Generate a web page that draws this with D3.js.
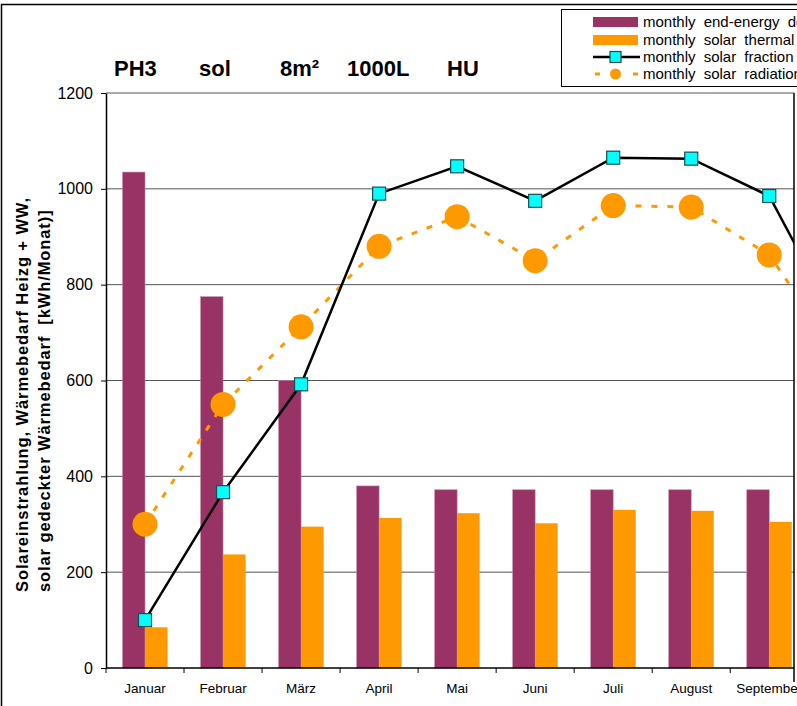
<!DOCTYPE html>
<html>
<head>
<meta charset="utf-8">
<script src="https://cdn.jsdelivr.net/npm/d3@7"></script>
<style>
  body { margin: 0; background: #fff; }
  svg { display: block; font-family: "Liberation Sans", Arial, sans-serif; }
</style>
</head>
<body>
<div id="chart"></div>
<script>
// monthly values (chart is cut off after September)
var months = ["Januar", "Februar", "März", "April", "Mai", "Juni", "Juli", "August", "September", "Oktober"];
var endEnergy = [1035, 775, 600, 380, 372, 372, 372, 372, 372, null];
var solarThermal = [85, 237, 295, 313, 323, 302, 330, 328, 305, null];
var solarFraction = [100, 367, 592, 990, 1047, 975, 1065, 1063, 985, 680];
var solarRadiation = [300, 550, 712, 880, 942, 850, 965, 962, 862, 625];
var yTicks = [0, 200, 400, 600, 800, 1000, 1200];
var titleParts = ["PH3", "sol", "8m²", "1000L", "HU"];
var legendLabels = ["monthly end-energy demand", "monthly solar thermal", "monthly solar fraction", "monthly solar radiation"];

var width = 797, height = 706;
var margin = { top: 93, left: 106, bottom: 38 };
var plotRight = 794;
var step = 78.03;

var svg = d3.select("#chart").append("svg")
    .attr("width", width)
    .attr("height", height);

// outer frame of the chart area
svg.append("path")
    .attr("d", "M1.5," + height + "V4.5H" + width)
    .attr("fill", "none").attr("stroke", "#000").attr("stroke-width", 1.5);

var x = d3.scaleBand()
    .domain(months)
    .range([margin.left, margin.left + months.length * step]);

var xSub = d3.scaleBand()
    .domain(["end", "solar"])
    .range([0, x.bandwidth()])
    .paddingOuter(0.733);

var y = d3.scaleLinear()
    .domain([0, 1200])
    .range([height - margin.bottom, margin.top]);

svg.append("clipPath").attr("id", "plotclip")
  .append("rect")
    .attr("x", margin.left).attr("y", 0)
    .attr("width", plotRight - margin.left).attr("height", height);

var plot = svg.append("g").attr("clip-path", "url(#plotclip)");

// gridlines
plot.selectAll(".grid")
    .data(yTicks.filter(function(d) { return d > 0; }))
    .enter().append("line")
    .attr("x1", margin.left).attr("x2", plotRight)
    .attr("y1", function(d) { return y(d); })
    .attr("y2", function(d) { return y(d); })
    .attr("stroke", "#555").attr("stroke-width", 1);

// bars
var barGroups = plot.selectAll(".month")
    .data(months)
    .enter().append("g")
    .attr("transform", function(d) { return "translate(" + x(d) + ",0)"; });

barGroups.filter(function(d, i) { return endEnergy[i] != null; })
    .append("rect")
    .attr("x", xSub("end"))
    .attr("width", xSub.bandwidth())
    .attr("y", function(d) { return y(endEnergy[months.indexOf(d)]); })
    .attr("height", function(d) { return y(0) - y(endEnergy[months.indexOf(d)]); })
    .attr("fill", "#993366")
    .attr("stroke", "#c58fac").attr("stroke-width", 0.6);

barGroups.filter(function(d, i) { return solarThermal[i] != null; })
    .append("rect")
    .attr("x", xSub("solar"))
    .attr("width", xSub.bandwidth())
    .attr("y", function(d) { return y(solarThermal[months.indexOf(d)]); })
    .attr("height", function(d) { return y(0) - y(solarThermal[months.indexOf(d)]); })
    .attr("fill", "#ff9900");

var cx = function(d, i) { return x(months[i]) + x.bandwidth() / 2; };

// solar radiation: dashed orange line with circles
plot.append("path")
    .datum(solarRadiation)
    .attr("fill", "none")
    .attr("stroke", "#ff9900")
    .attr("stroke-width", 3)
    .attr("stroke-dasharray", "6,10")
    .attr("d", d3.line().x(cx).y(function(d) { return y(d); }));

plot.selectAll(".rad")
    .data(solarRadiation)
    .enter().append("circle")
    .attr("cx", cx)
    .attr("cy", function(d) { return y(d); })
    .attr("r", 12.5)
    .attr("fill", "#ff9900");

// solar fraction: black line with cyan squares
plot.append("path")
    .datum(solarFraction)
    .attr("fill", "none")
    .attr("stroke", "#000")
    .attr("stroke-width", 2.5)
    .attr("d", d3.line().x(cx).y(function(d) { return y(d); }));

plot.selectAll(".frac")
    .data(solarFraction)
    .enter().append("rect")
    .attr("x", function(d, i) { return cx(d, i) - 6.5; })
    .attr("y", function(d) { return y(d) - 6.5; })
    .attr("width", 13).attr("height", 13)
    .attr("fill", "#00ffff")
    .attr("stroke", "#1a4d4d").attr("stroke-width", 1.2);

// right edge of the cut-off plot
svg.append("line")
    .attr("x1", plotRight).attr("x2", plotRight)
    .attr("y1", y(1200)).attr("y2", 682)
    .attr("stroke", "#000").attr("stroke-width", 1.5);

// y axis
var yAxis = svg.append("g")
    .attr("transform", "translate(" + margin.left + ",0)")
    .call(d3.axisLeft(y).tickValues(yTicks).tickFormat(d3.format("d"))
        .tickSize(5).tickPadding(8).tickSizeOuter(0));
yAxis.select(".domain").attr("stroke", "#000").attr("stroke-width", 1.5);
yAxis.selectAll(".tick line").attr("stroke", "#000");
yAxis.selectAll("text").attr("font-size", 16).attr("fill", "#000")
    .attr("font-family", "Liberation Sans, Arial, sans-serif");

// x axis with ticks on the band boundaries
var xAxisG = svg.append("g");
xAxisG.append("line")
    .attr("x1", margin.left).attr("x2", plotRight)
    .attr("y1", y(0)).attr("y2", y(0))
    .attr("stroke", "#000").attr("stroke-width", 1.5);
xAxisG.selectAll(".xt")
    .data(months)
    .enter().append("line")
    .attr("x1", function(d) { return x(d); })
    .attr("x2", function(d) { return x(d); })
    .attr("y1", y(0)).attr("y2", y(0) + 5)
    .attr("stroke", "#000");
xAxisG.selectAll(".xl")
    .data(months)
    .enter().append("text")
    .attr("x", function(d) { return x(d) + x.bandwidth() / 2; })
    .attr("y", y(0) + 25)
    .attr("text-anchor", "middle")
    .attr("font-size", 13.5)
    .attr("fill", "#000")
    .text(function(d) { return d; });

// y axis title, two lines, left aligned at the bottom
var yTitle = svg.append("text")
    .attr("transform", "translate(28,592) rotate(-90)")
    .attr("text-anchor", "start")
    .attr("font-size", 16.5)
    .attr("letter-spacing", 0.9)
    .attr("font-weight", "bold")
    .attr("xml:space", "preserve");
yTitle.append("tspan").attr("x", 0).attr("dy", 0)
    .text("Solareinstrahlung, Wärmebedarf Heizg + WW,");
yTitle.append("tspan").attr("x", 0).attr("dy", 22)
    .text("solar gedeckter Wärmebedarf  [kWh/Monat)]");

// title
var titleX = [114, 199, 280, 347, 447];
svg.selectAll(".title")
    .data(titleParts)
    .enter().append("text")
    .attr("x", function(d, i) { return titleX[i]; })
    .attr("y", 76)
    .attr("font-size", 22)
    .attr("font-weight", "bold")
    .text(function(d) { return d; });

// legend (cut off at the right edge)
var legend = svg.append("g");
legend.append("rect")
    .attr("x", 561.5).attr("y", 9.5)
    .attr("width", 260).attr("height", 77)
    .attr("fill", "#fff").attr("stroke", "#000");

var rowY = [22, 40, 57, 74];
legend.append("rect").attr("x", 593).attr("y", rowY[0] - 5).attr("width", 45).attr("height", 10).attr("fill", "#993366");
legend.append("rect").attr("x", 593).attr("y", rowY[1] - 5).attr("width", 45).attr("height", 10).attr("fill", "#ff9900");
legend.append("line").attr("x1", 593).attr("x2", 640).attr("y1", rowY[2]).attr("y2", rowY[2])
    .attr("stroke", "#000").attr("stroke-width", 2.5);
legend.append("rect").attr("x", 610).attr("y", rowY[2] - 5.5).attr("width", 11).attr("height", 11)
    .attr("fill", "#00ffff").attr("stroke", "#1a4d4d").attr("stroke-width", 1.2);
legend.append("line").attr("x1", 595).attr("x2", 640).attr("y1", rowY[3]).attr("y2", rowY[3])
    .attr("stroke", "#ff9900").attr("stroke-width", 3).attr("stroke-dasharray", "5,14");
legend.append("circle").attr("cx", 615.5).attr("cy", rowY[3]).attr("r", 5.5).attr("fill", "#ff9900");

legend.selectAll(".lt")
    .data(legendLabels)
    .enter().append("text")
    .attr("x", 643)
    .attr("y", function(d, i) { return rowY[i] + 5; })
    .attr("font-size", 15)
    .attr("word-spacing", 4)
    .text(function(d) { return d; });
</script>
</body>
</html>
